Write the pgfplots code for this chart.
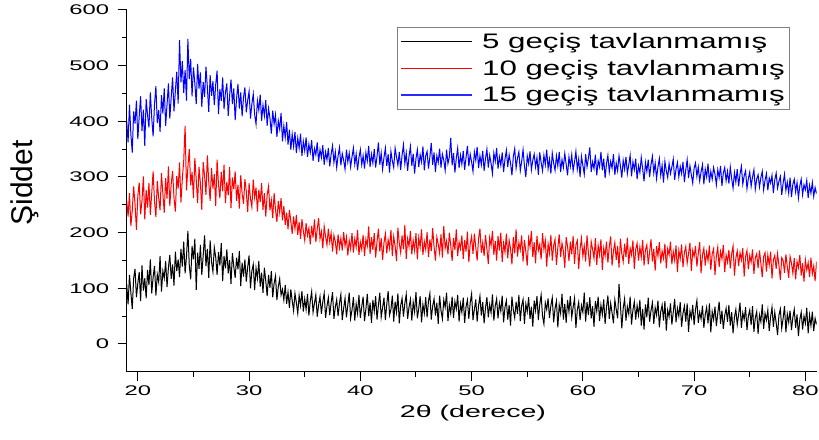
\documentclass[border=0pt]{standalone}
\usepackage{pgfplots}
\usepackage{pgfplotstable}
\pgfplotsset{compat=1.18}
\usepackage{fontspec}
\setmainfont{Liberation Sans}
\newfontfamily\tickfont[FakeStretch=1.7]{Liberation Sans}
\newfontfamily\legfont[FakeStretch=1.49]{Liberation Sans}
\newfontfamily\labfont[FakeStretch=1.68]{Liberation Sans}
\definecolor{legblue}{RGB}{40,40,255}

\pgfplotstableread{
x b r u
19.000 108 258 401
19.125 71 229 362
19.250 124 271 430
19.375 92 212 377
19.500 63 240 344
19.625 118 283 418
19.750 135 251 396
19.875 84 205 437
20.000 109 266 368
20.125 129 290 409
20.250 77 233 445
20.375 141 258 383
20.500 96 301 421
20.625 118 224 356
20.750 82 277 440
20.875 133 245 411
21.000 106 289 389
21.125 152 232 452
21.250 91 271 406
21.375 120 310 373
21.500 140 256 431
21.625 87 228 463
21.750 125 293 397
21.875 111 262 420
22.000 158 240 381
22.125 94 307 447
22.250 131 270 414
22.375 118 236 459
22.500 149 298 392
22.625 102 261 430
22.750 137 319 468
22.875 160 248 405
23.000 117 287 443
23.125 143 311 479
23.250 105 263 418
23.375 166 238 455
23.500 131 302 489
23.625 152 279 432
23.750 120 326 546
23.875 171 254 470
24.000 139 297 508
24.125 184 329 451
24.250 127 392 492
24.375 158 276 437
24.500 203 318 548
24.625 141 350 476
24.750 116 285 512
24.875 176 309 445
25.000 152 262 497
25.125 189 334 468
25.250 97 295 431
25.375 164 253 503
25.500 135 318 459
25.625 178 289 488
25.750 124 241 426
25.875 159 327 471
26.000 195 302 444
26.125 140 268 498
26.250 171 339 461
26.375 119 291 417
26.500 186 257 483
26.625 147 316 446
26.750 130 279 472
26.875 173 305 429
27.000 156 248 466
27.125 124 331 491
27.250 165 287 413
27.375 141 262 458
27.500 181 309 437
27.625 113 274 479
27.750 158 322 422
27.875 136 253 452
28.000 170 291 468
28.125 127 267 410
28.250 151 318 446
28.375 108 244 475
28.500 163 299 431
28.625 139 278 459
28.750 119 310 402
28.875 155 257 441
29.000 134 286 467
29.125 167 243 423
29.250 104 303 452
29.375 146 270 409
29.500 121 252 443
29.625 152 296 461
29.750 112 274 416
29.875 138 237 438
30.000 159 289 454
30.125 100 261 405
30.250 131 246 431
30.375 143 295 449
30.500 97 263 412
30.625 136 281 395
30.750 118 238 437
30.875 149 277 420
31.000 103 255 448
31.125 128 289 401
31.250 92 241 429
31.375 137 271 410
31.500 113 229 438
31.625 86 268 392
31.750 124 283 423
31.875 101 240 406
32.000 131 258 378
32.125 84 226 419
32.250 109 271 395
32.375 122 242 412
32.500 79 219 372
32.625 103 257 401
32.750 117 236 386
32.875 88 262 415
33.000 98 222 364
33.125 79 248 392
33.250 106 214 371
33.375 72 236 399
33.500 93 206 358
33.625 65 241 385
33.750 98 221 349
33.875 78 198 377
34.000 60 229 355
34.125 91 207 381
34.250 74 232 343
34.375 55 196 370
34.500 87 219 352
34.625 69 189 378
34.750 95 224 338
34.875 58 203 364
35.000 81 186 347
35.125 62 217 371
35.250 90 195 336
35.375 51 208 359
35.500 77 179 344
35.625 94 212 366
35.750 57 191 329
35.875 73 224 351
36.000 88 183 340
36.125 49 206 362
36.250 70 226 327
36.375 85 189 349
36.500 54 202 335
36.625 76 172 357
36.750 91 211 322
36.875 47 193 345
37.000 68 178 331
37.125 83 207 352
37.250 52 183 319
37.375 74 199 341
37.500 93 166 356
37.625 45 195 326
37.750 66 184 345
37.875 80 161 317
38.000 50 197 338
38.125 73 173 353
38.250 89 190 321
38.375 43 168 342
38.500 64 201 330
38.625 82 176 314
38.750 48 192 349
38.875 70 159 327
39.000 92 186 343
39.125 46 171 318
39.250 61 199 336
39.375 84 164 352
39.500 42 189 323
39.625 72 174 341
39.750 55 205 312
39.875 88 160 335
40.000 47 183 349
40.125 67 170 322
40.250 85 196 338
40.375 41 158 315
40.500 63 188 344
40.625 90 176 329
40.750 50 211 356
40.875 74 162 318
41.000 38 192 341
41.125 79 169 325
41.250 59 199 350
41.375 86 155 317
41.500 44 184 337
41.625 70 207 362
41.750 92 166 322
41.875 48 190 343
42.000 65 151 314
42.125 83 182 335
42.250 43 198 352
42.375 71 163 320
42.500 95 187 341
42.625 52 172 308
42.750 62 205 346
42.875 87 158 329
43.000 40 193 317
43.125 76 176 352
43.250 57 149 336
43.375 91 209 321
43.500 37 181 345
43.625 69 164 313
43.750 82 195 339
43.875 49 170 358
44.000 73 214 324
44.125 89 153 343
44.250 45 189 311
44.375 66 175 337
44.500 80 203 355
44.625 42 161 320
44.750 75 186 342
44.875 58 168 306
45.000 93 199 333
45.125 46 152 349
45.250 64 191 318
45.375 86 174 340
45.500 39 206 327
45.625 71 160 355
45.750 55 184 312
45.875 84 170 338
46.000 48 201 346
46.125 77 156 315
46.250 91 188 336
46.375 44 167 361
46.500 68 208 322
46.625 81 175 344
46.750 51 150 309
46.875 74 192 338
47.000 36 179 326
47.125 87 163 351
47.250 60 197 317
47.375 45 155 341
47.500 79 212 330
47.625 66 172 312
47.750 92 185 349
47.875 41 161 324
48.000 70 200 336
48.125 55 177 370
48.250 85 149 321
48.375 47 190 343
48.500 76 169 308
48.625 63 206 334
48.750 88 158 352
48.875 40 183 316
49.000 72 171 339
49.125 57 195 323
49.250 83 153 347
49.375 38 187 313
49.500 67 166 335
49.625 79 202 356
49.750 45 147 319
49.875 74 180 341
50.000 90 193 327
50.125 43 162 310
50.250 62 198 345
50.375 80 174 330
50.500 40 150 354
50.625 69 189 316
50.750 86 207 338
50.875 51 164 322
51.000 75 182 347
51.125 37 158 311
51.250 65 196 333
51.375 84 171 350
51.500 48 144 317
51.625 71 191 339
51.750 56 177 324
51.875 89 203 306
52.000 42 160 343
52.125 68 185 328
52.250 81 150 352
52.375 46 194 315
52.500 73 168 336
52.625 59 200 321
52.750 87 147 344
52.875 39 181 309
53.000 66 165 332
53.125 78 198 348
53.250 44 154 318
53.375 70 186 340
53.500 33 171 325
53.625 85 143 303
53.750 61 192 337
53.875 47 163 351
54.000 76 206 316
54.125 54 157 334
54.250 88 182 345
54.375 41 169 311
54.500 69 195 328
54.625 80 148 349
54.750 36 187 320
54.875 72 166 300
55.000 58 141 338
55.125 84 190 324
55.250 45 175 346
55.375 67 203 313
55.500 31 156 330
55.625 78 183 341
55.750 60 145 318
55.875 86 194 335
56.000 43 168 304
56.125 71 179 344
56.250 88 152 326
56.375 50 199 311
56.500 36 170 339
56.625 74 186 322
56.750 62 139 349
56.875 82 180 315
57.000 47 163 332
57.125 69 196 306
57.250 83 150 343
57.375 39 177 325
57.500 64 188 312
57.625 77 142 338
57.750 30 173 320
57.875 70 197 345
58.000 55 156 309
58.125 90 181 331
58.250 44 167 317
58.375 72 137 342
58.500 38 192 323
58.625 79 175 303
58.750 58 149 336
58.875 86 184 319
59.000 48 161 340
59.125 66 194 311
59.250 82 144 327
59.375 29 178 346
59.500 61 186 314
59.625 75 135 332
59.750 43 171 300
59.875 69 190 337
60.000 57 158 321
60.125 92 176 305
60.250 40 148 341
60.375 75 195 318
60.500 52 163 334
60.625 84 139 353
60.750 46 184 309
60.875 68 170 327
61.000 31 154 315
61.125 77 190 340
61.250 59 142 303
61.375 85 177 329
61.500 41 160 318
61.625 70 188 345
61.750 53 133 312
61.875 80 172 333
62.000 36 158 298
62.125 66 184 324
62.250 87 146 339
62.375 45 175 309
62.500 73 193 328
62.625 56 141 316
62.750 37 167 341
62.875 79 182 304
63.000 62 151 325
63.125 46 176 311
63.250 108 137 338
63.375 71 189 320
63.500 28 162 299
63.625 64 148 330
63.750 81 180 314
63.875 42 156 336
64.000 67 191 306
64.125 54 144 322
64.250 85 172 339
64.375 35 160 301
64.500 61 186 327
64.625 76 135 313
64.750 44 170 333
64.875 69 181 296
65.000 52 150 320
65.125 79 174 308
65.250 33 156 335
65.375 63 187 315
65.500 26 141 292
65.625 71 169 326
65.750 48 178 310
65.875 83 143 331
66.000 40 165 300
66.125 60 188 322
66.250 74 148 337
66.375 36 171 307
66.500 65 132 325
66.625 52 176 297
66.750 78 158 318
66.875 30 183 333
67.000 58 145 303
67.125 70 167 321
67.250 42 154 290
67.375 77 180 328
67.500 24 136 311
67.625 61 171 299
67.750 49 160 324
67.875 73 184 306
68.000 35 143 318
68.125 57 166 332
68.250 81 150 295
68.375 39 177 314
68.500 64 129 326
68.625 50 168 300
68.750 75 153 319
68.875 31 179 306
69.000 55 138 327
69.125 68 164 291
69.250 40 175 313
69.375 73 145 331
69.500 22 162 298
69.625 59 182 320
69.750 47 131 304
69.875 70 168 289
70.000 34 157 316
70.125 62 176 325
70.250 78 139 301
70.375 38 163 318
70.500 57 183 293
70.625 45 127 309
70.750 69 160 322
70.875 29 172 287
71.000 53 141 314
71.125 66 165 300
71.250 37 150 324
71.375 73 177 290
71.500 21 133 310
71.625 58 162 296
71.750 44 171 317
71.875 67 124 305
72.000 32 158 286
72.125 55 174 313
72.250 76 138 299
72.375 36 166 320
72.500 60 153 284
72.625 27 178 307
72.750 51 129 317
72.875 64 160 293
73.000 40 147 310
73.125 70 169 288
73.250 33 136 318
73.375 57 162 297
73.500 19 176 280
73.625 48 123 308
73.750 62 154 291
73.875 35 167 314
74.000 53 140 283
74.125 74 164 305
74.250 29 151 319
74.375 56 172 287
74.500 44 121 302
74.625 66 157 311
74.750 25 168 279
74.875 50 134 297
75.000 61 159 309
75.125 34 147 283
75.250 68 170 300
75.375 22 126 313
75.500 47 155 278
75.625 58 162 296
75.750 18 136 304
75.875 52 168 282
76.000 40 145 299
76.125 71 120 310
76.250 27 157 277
76.375 55 164 294
76.500 43 130 306
76.625 61 160 276
76.750 23 142 298
76.875 49 166 289
77.000 66 118 303
77.125 31 151 271
77.250 57 159 295
77.375 38 135 307
77.500 16 162 280
77.625 52 141 292
77.750 63 115 301
77.875 28 155 268
78.000 46 150 289
78.125 68 128 305
78.250 21 161 276
78.375 54 139 291
78.500 39 119 271
78.625 60 157 299
78.750 25 145 264
78.875 48 127 287
79.000 62 154 296
79.125 29 116 273
79.250 53 148 290
79.375 14 137 262
79.500 44 160 284
79.625 57 123 296
79.750 26 145 268
79.875 50 112 286
80.000 37 151 277
80.125 65 133 294
80.250 19 146 262
80.375 52 120 285
80.500 33 155 271
80.625 58 126 290
80.750 23 140 265
80.875 46 113 281
81.000 35 148 270
}\xrd

\begin{document}
\begin{tikzpicture}
\begin{axis}[
  at={(0,0)}, anchor=south west,
  scale only axis, width=689.8pt, height=361.8pt,
  xmin=19, xmax=81, ymin=-50, ymax=600,
  axis x line*=bottom, axis y line*=left,
  axis line style={-, line width=1.2pt},
  xtick={20,30,...,80}, ytick={0,100,...,600},
  minor x tick num=1, minor y tick num=1,
  tick align=outside,
  major tick length=9pt, minor tick length=5pt,
  tick style={line width=1pt, black},
  /pgf/number format/assume math mode=true,
  ticklabel style={font=\tickfont\fontsize{14}{16}\selectfont},
  xticklabel style={yshift=-1pt},
  yticklabel style={xshift=-5pt},
  xlabel={2θ (derece)},
  ylabel={Şiddet},
  xlabel style={font=\labfont\fontsize{17}{20}\selectfont, at={(axis description cs:0.502,-0.114)}, anchor=center},
  ylabel style={font=\fontsize{30}{32}\selectfont, at={(axis description cs:-0.148,0.522)}, anchor=center},
  legend style={at={(axis description cs:0.9616,0.953)}, anchor=north east,
    draw=gray, line width=0.6pt, fill=white,
    font=\legfont\fontsize{21}{24}\selectfont,
    inner xsep=3pt, inner ysep=1pt, row sep=0pt,
    nodes={inner ysep=5pt}},
  legend cell align=left,
  legend image code/.code={\draw[#1] (0pt,0pt) -- (71pt,0pt); \path (78pt,0pt);},
]
\addplot[color=black, line width=1.0pt, forget plot] table[x=x, y=b] {\xrd};
\addplot[color=red, line width=1.0pt, forget plot] table[x=x, y=r] {\xrd};
\addplot[color=blue, line width=1.0pt, forget plot] table[x=x, y=u] {\xrd};
\addlegendimage{draw=black, line width=1.2pt}
\addlegendentry{5 geçiş tavlanmamış}
\addlegendimage{draw=red, line width=1.2pt}
\addlegendentry{10 geçiş tavlanmamış}
\addlegendimage{draw=legblue, line width=1.4pt}
\addlegendentry{15 geçiş tavlanmamış}
\end{axis}
\pgfresetboundingbox
\path (-126.7pt,-67.2pt) rectangle (692.3pt,371.8pt);
\end{tikzpicture}
\end{document}
